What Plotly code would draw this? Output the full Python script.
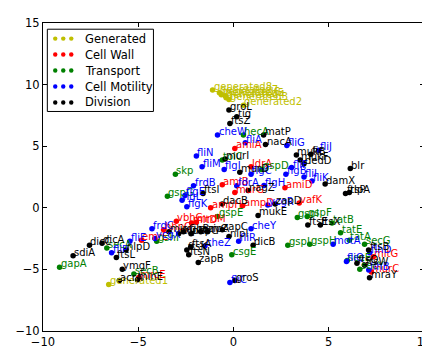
import plotly.graph_objects as go

# ---------------- data ----------------
gen_names = ["generated1", "generated2", "generated3", "generated4", "generated5",
             "generated6", "generated7", "generated8"]
gen_x = [-6.55, 0.52, -0.24, -0.39, -0.44, -0.64, -0.74, -1.10]
gen_y = [-6.22, 8.32, 8.79, 8.94, 9.10, 9.18, 9.33, 9.56]

wall_names = ["amiD", "vafK", "ldrA", "amiA", "amiB", "murG", "ampH", "ampD",
              "vbhC", "hhpG", "mltD", "mrdM", "emrE", "mrcE", "mltG", "murC"]
wall_x = [2.70, 3.45, 0.92, 0.07, -0.59, 0.07, -1.20, 0.48,
          -3.00, -3.67, -2.20, -1.95, -4.83, -4.98, 7.34, 7.24]
wall_y = [1.63, 0.39, 3.34, 4.82, 1.87, 1.24, 0.00, 0.16,
          -1.09, -1.79, -1.24, -1.17, -2.64, -5.68, -3.97, -5.21]

trans_names = ["hecA", "skp", "gspG", "gspD", "tolC", "gspE", "gspI", "gspF",
               "tatB", "tatE", "tatA", "gspL", "gspH", "secG", "secE", "secY",
               "csgE", "gshI", "secB", "gapA", "secA"]
trans_x = [0.52, -3.05, -3.47, 1.48, -0.59, -0.84, 3.35, 3.87,
           5.17, 5.62, 6.08, 2.85, 4.00, 6.88, 5.97, 6.63,
           -0.09, -4.03, -5.23, -9.13, -6.65]
trans_y = [5.91, 2.72, 0.93, 3.11, 3.89, -0.70, -0.78, -0.70,
           -1.24, -2.02, -2.64, -3.03, -2.95, -2.95, -4.28, -4.98,
           -3.81, -2.72, -5.37, -4.82, -3.27]

mot_names = ["cheW", "fliA", "fliN", "fliG", "fliJ", "fliM", "flgI", "flgC",
             "flgB", "fliF", "fliI", "fliK", "flgH", "fdrA", "frdB", "flgK",
             "flgL", "flgE", "ycgR", "frdC", "vcgX", "fliE", "fliP", "cheZ",
             "fliR", "fliC", "cheY", "fliQ", "motA", "flhD", "flhB"]
mot_x = [-0.84, 0.62, -1.95, 2.80, 4.47, -1.65, -0.49, 0.92,
         2.75, 3.05, 3.70, 4.12, 1.60, 0.17, -2.10, -2.45,
         -2.70, -2.55, 1.80, -4.28, -4.12, -5.44, -6.40, -1.50,
         0.27, -0.19, 0.92, 5.93, 5.23, 7.15, 7.10]
mot_y = [5.91, 5.29, 4.20, 5.05, 4.67, 3.34, 3.11, 2.72,
         2.72, 3.27, 2.49, 2.18, 1.80, 1.79, 1.79, 0.08,
         0.62, 1.00, 0.23, -1.71, -2.49, -2.72, -3.65, -3.11,
         -2.72, -6.07, -1.71, -4.35, -2.95, -3.65, -5.05]

div_names = ["groL", "tig", "ftsZ", "matP", "nacA", "murI", "murD", "nagZ",
             "ftsI", "dacB", "zapD", "mukB", "mukF", "dedD", "fic", "damX",
             "blr", "ftsP", "rlpA", "ftsE", "ftsX", "ftsB", "ftsQ", "ftsW",
             "mraY", "nlpI", "dicB", "groS", "zapC", "mukE", "minC", "minD",
             "ygbB", "pbpC", "envC", "zipA", "ftsN", "ftsK", "ftsA", "zapB",
             "nlpD", "ftsL", "ymgF", "acrA", "minE", "dicC", "dicA", "sdiA"]
div_x = [-0.24, 0.17, -0.19, 1.58, 1.68, -0.44, 0.33, 0.77,
         -1.60, -0.59, 2.19, 3.30, 3.50, 3.70, 4.06, 4.81,
         6.13, 5.88, 6.08, 3.90, 4.56, 7.09, 6.48, 6.88,
         7.14, -0.24, 1.03, 0.07, -0.59, 1.29, -3.39, -2.88,
         -2.63, -2.23, -1.72, -1.37, -2.35, -2.45, -2.25, -1.85,
         -5.64, -6.15, -5.84, -5.99, -5.04, -7.56, -6.90, -8.42]
div_y = [7.93, 7.39, 6.84, 5.91, 5.13, 3.97, 2.88, 1.40,
         1.17, 0.31, 0.31, 4.28, 3.89, 3.58, 4.35, 1.94,
         3.19, 1.17, 1.24, -1.40, -1.40, -3.42, -4.51, -4.67,
         -5.68, -2.33, -3.03, -5.91, -1.79, -0.62, -1.94, -2.10,
         -1.94, -2.10, -1.94, -1.94, -3.81, -3.42, -3.19, -4.43,
         -3.42, -4.04, -4.98, -5.91, -5.83, -3.03, -2.88, -3.89]

groups = [
    ("Generated", "#bfbf00", gen_names, gen_x, gen_y),
    ("Cell Wall", "#ff0000", wall_names, wall_x, wall_y),
    ("Transport", "#008000", trans_names, trans_x, trans_y),
    ("Cell Motility", "#0000ff", mot_names, mot_x, mot_y),
    ("Division", "#000000", div_names, div_x, div_y),
]

W, H = 430, 348
ML, MR, MT, MB = 28, 7, 15, 11
PW, PH = W - ML - MR, H - MT - MB


def px(xp):
    return (xp - ML) / PW


def py(yp):
    return (H - MB - yp) / PH


fig = go.Figure()
annotations = []
for name, color, names, xs, ys in groups:
    fig.add_trace(go.Scatter(
        x=xs, y=ys, mode="markers", name=name, showlegend=False,
        marker=dict(color=color, size=5.5, line=dict(width=0)),
        hoverinfo="text", text=names, cliponaxis=False))
    for n, x, y in zip(names, xs, ys):
        annotations.append(dict(
            x=x, y=y, xref="x", yref="y", text=n, showarrow=False,
            xanchor="left", yanchor="bottom", xshift=-1, yshift=-4,
            font=dict(family="DejaVu Sans", size=10, color=color)))

# legend (matplotlib style, 3 scatter points per entry)
shapes = [dict(type="rect", xref="paper", yref="paper",
               x0=px(32.5), x1=px(142.5), y0=py(107.5), y1=py(21.5),
               line=dict(color="black", width=1), fillcolor="white", layer="above")]
for i, (name, color, *_rest) in enumerate(groups):
    yc = 31.3 + i * 16.7
    for xc in (40.7, 49.0, 57.3):
        shapes.append(dict(type="circle", xref="paper", yref="paper",
                           x0=px(xc - 2.3), x1=px(xc + 2.3),
                           y0=py(yc + 2.3), y1=py(yc - 2.3),
                           fillcolor=color, line=dict(width=0), layer="above"))
    annotations.append(dict(x=px(69), y=py(yc), xref="paper", yref="paper",
                            text=name, showarrow=False, xanchor="left",
                            yanchor="middle",
                            font=dict(family="DejaVu Sans", size=11.5, color="black")))

axis_common = dict(showgrid=False, zeroline=False, ticks="inside", ticklen=4,
                   tickwidth=1, tickcolor="black", mirror="ticks", showline=True,
                   linecolor="black", linewidth=1,
                   tickfont=dict(family="DejaVu Sans", size=11.5, color="black"))

fig.update_layout(
    width=W, height=H,
    margin=dict(l=ML, r=MR, t=MT, b=MB),
    paper_bgcolor="white", plot_bgcolor="white",
    xaxis=dict(range=[-10, 10], dtick=5, tick0=0, **axis_common),
    yaxis=dict(range=[-10, 15], dtick=5, tick0=0, **axis_common),
    annotations=annotations, shapes=shapes, showlegend=False,
)

fig.write_html("out.html")
